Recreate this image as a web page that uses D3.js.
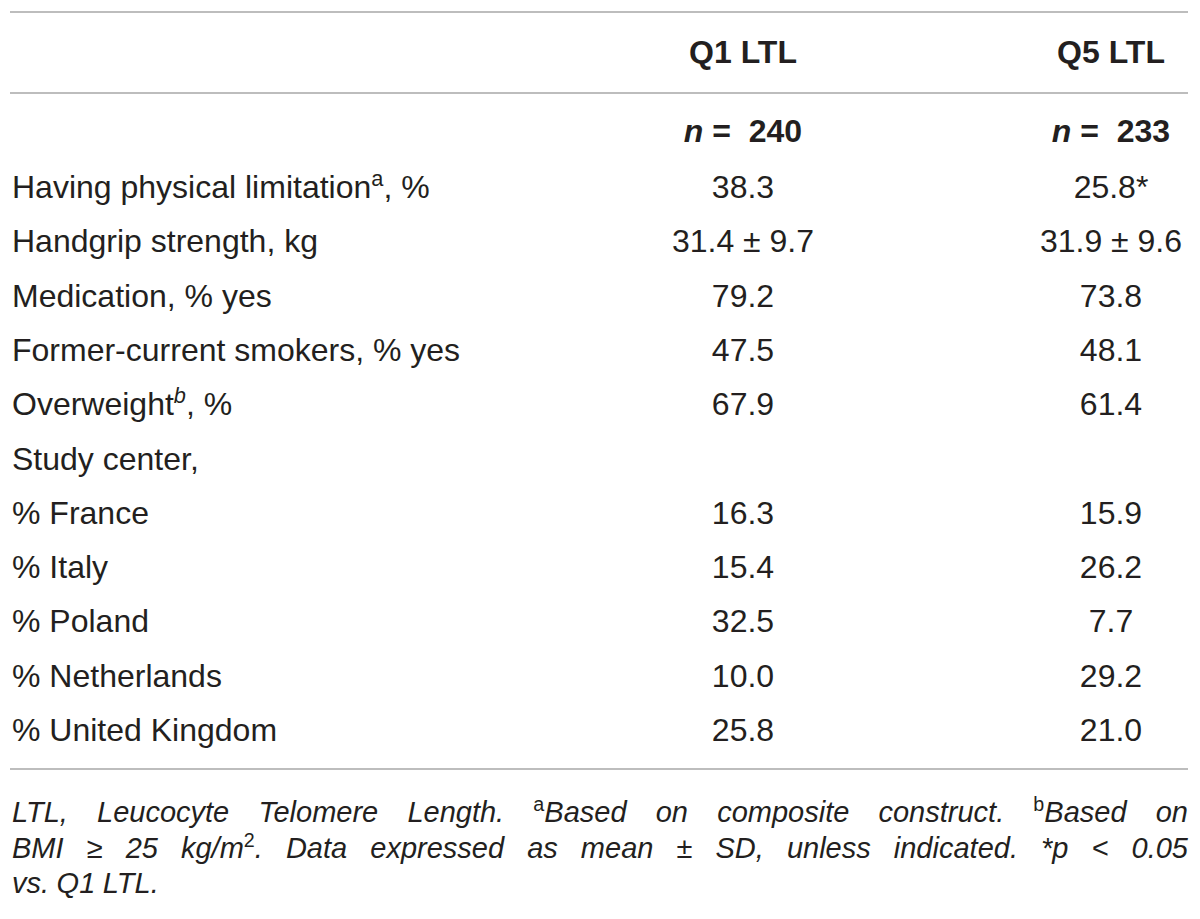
<!DOCTYPE html>
<html><head><meta charset="utf-8">
<script src="https://cdn.jsdelivr.net/npm/d3@7"></script>
<style>
html,body{margin:0;padding:0;background:#fff;}
svg{display:block;}
text{font-family:"Liberation Sans",Arial,Helvetica,sans-serif;fill:#231f20;}
</style></head>
<body>
<svg id="chart" width="1200" height="919"></svg>
<script>
// ---- data ----
const columns = ["Q1 LTL", "Q5 LTL"];
const groupSizes = ["240", "233"];
const rowLabels = ["Having physical limitation", "Handgrip strength, kg", "Medication, % yes",
  "Former-current smokers, % yes", "Overweight", "Study center,", "% France", "% Italy",
  "% Poland", "% Netherlands", "% United Kingdom"];
const rowSups = ["a", "", "", "", "b", "", "", "", "", "", ""];
const rowSuffix = [", %", "", "", "", ", %", "", "", "", "", "", ""];
const q1Values = ["38.3", "31.4 ± 9.7", "79.2", "47.5", "67.9", "", "16.3", "15.4", "32.5", "10.0", "25.8"];
const q5Values = ["25.8*", "31.9 ± 9.6", "73.8", "48.1", "61.4", "", "15.9", "26.2", "7.7", "29.2", "21.0"];
// footnote: lines -> words -> segments [text, kind]
const footnoteLines = [
  [[["LTL,"]], [["Leucocyte"]], [["Telomere"]], [["Length."]], [["a", "sup"], ["Based"]], [["on"]],
   [["composite"]], [["construct."]], [["b", "sup"], ["Based"]], [["on"]]],
  [[["BMI"]], [["≥"]], [["25"]], [["kg/m"], ["2", "sup"], ["."]], [["Data"]], [["expressed"]], [["as"]],
   [["mean"]], [["±"]], [["SD,"]], [["unless"]], [["indicated."]], [["*p"]], [["<"]], [["0.05"]]],
  [[["vs."]], [["Q1"]], [["LTL."]]]
];

// ---- layout ----
const svg = d3.select("#chart");
const left = 10, right = 1188;
const FS = 32;
const x = d3.scalePoint().domain(columns).range([743, 1111]);
const y = d3.scalePoint().domain(d3.range(rowLabels.length)).range([187, 730]);
const capOff = 11;

// rules
[12, 93, 769].forEach(yy => {
  svg.append("line").attr("x1", left).attr("x2", right).attr("y1", yy).attr("y2", yy)
    .attr("stroke", "#bdbdbd").attr("stroke-width", 2);
});

// header
svg.selectAll("text.hdr").data(columns).join("text").attr("class", "hdr")
  .attr("x", d => x(d)).attr("y", 52 + capOff).attr("text-anchor", "middle")
  .attr("font-size", FS).attr("font-weight", "bold").text(d => d);

// n row
columns.forEach((c, i) => {
  const t = svg.append("text").attr("x", x(c)).attr("y", 131 + capOff).attr("text-anchor", "middle")
    .attr("font-size", FS).attr("font-weight", "bold").style("white-space", "pre");
  t.append("tspan").attr("font-style", "italic").text("n");
  t.append("tspan").text(" =  " + groupSizes[i]);
});

// row labels
rowLabels.forEach((lab, i) => {
  const t = svg.append("text").attr("x", 12).attr("y", y(i) + capOff).attr("font-size", FS);
  t.append("tspan").text(lab);
  if (rowSups[i]) {
    t.append("tspan").attr("font-size", FS * 0.68).attr("dy", -12)
      .attr("font-style", rowSups[i] === "b" ? "italic" : null).text(rowSups[i]);
    t.append("tspan").attr("dy", 12).text(rowSuffix[i]);
  }
});

// values
[q1Values, q5Values].forEach((vals, ci) => {
  svg.selectAll("text.v" + ci).data(vals).join("text").attr("class", "v" + ci)
    .attr("x", x(columns[ci])).attr("y", (d, i) => y(i) + capOff)
    .attr("text-anchor", "middle").attr("font-size", FS).text(d => d);
});

// footnote (justified italic)
const FFS = 29;
const lineY = [812, 848, 883];
footnoteLines.forEach((words, li) => {
  const g = svg.append("g");
  const nodes = words.map(segs => {
    const t = g.append("text").attr("font-size", FFS).attr("font-style", "italic").attr("y", lineY[li] + 10);
    let raised = false;
    segs.forEach(s => {
      const ts = t.append("tspan").text(s[0]);
      if (s[1] === "sup") {
        ts.attr("font-size", FFS * 0.68).attr("dy", -11).attr("font-style", "normal");
        raised = true;
      } else if (raised) {
        ts.attr("dy", 11); raised = false;
      }
    });
    return t;
  });
  const widths = nodes.map(n => n.node().getComputedTextLength());
  const total = d3.sum(widths);
  const justify = li < footnoteLines.length - 1;
  const gap = justify ? (right - 12 - total) / (nodes.length - 1) : FFS * 0.26;
  let cx = 12;
  nodes.forEach((n, k) => { n.attr("x", cx); cx += widths[k] + gap; });
});
</script>
</body></html>
